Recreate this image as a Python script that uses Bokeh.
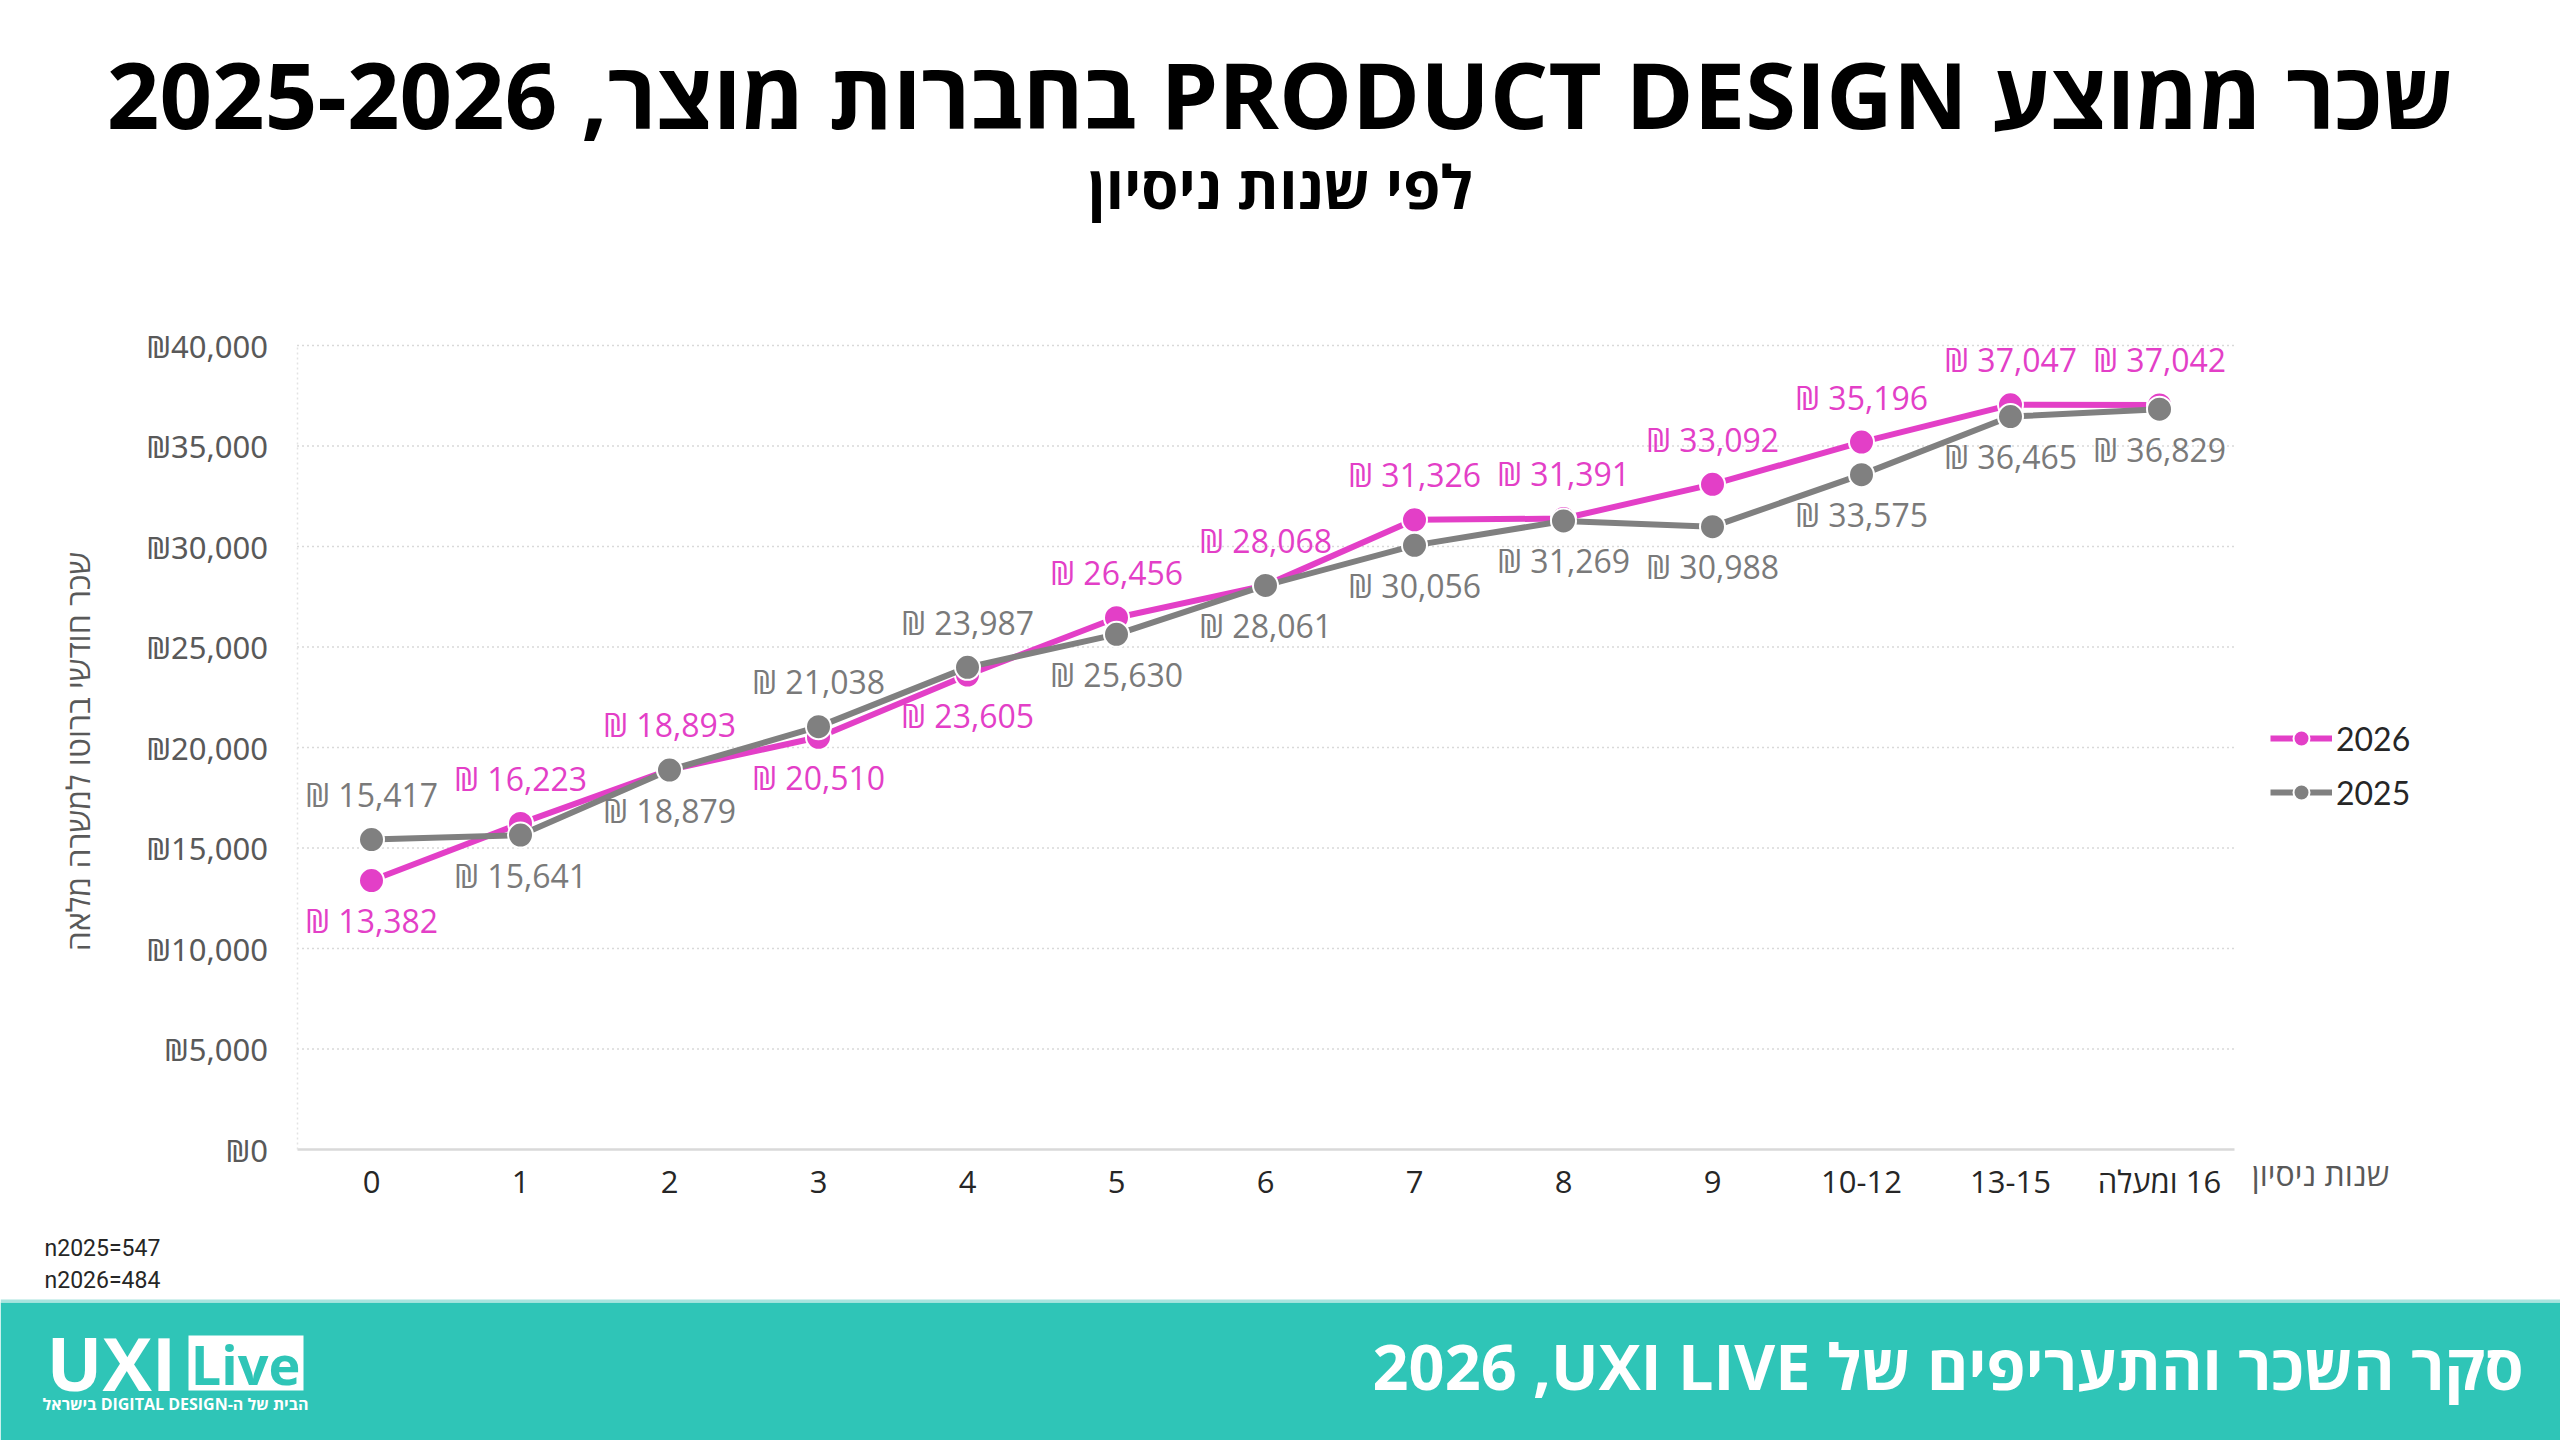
from bokeh.plotting import figure
from bokeh.models import (Range1d, FixedTicker, Label, LabelSet, BoxAnnotation,
                          ColumnDataSource, Legend, LegendItem)
from bokeh.core.properties import value
from bokeh.embed import file_html
from bokeh.resources import INLINE

# ---------------- data ----------------
categories = ["0", "1", "2", "3", "4", "5", "6", "7", "8", "9", "10-12", "13-15", "16 ומעלה"]
salary_2026 = [13382, 16223, 18893, 20510, 23605, 26456, 28068, 31326, 31391, 33092, 35196, 37047, 37042]
salary_2025 = [15417, 15641, 18879, 21038, 23987, 25630, 28061, 30056, 31269, 30988, 33575, 36465, 36829]
# label side: 1 = above the point, -1 = below
side_2026 = [-1, 1, 1, -1, -1, 1, 1, 1, 1, 1, 1, 1, 1]
side_2025 = [1, -1, -1, 1, 1, -1, -1, -1, -1, -1, -1, -1, -1]
y_ticks = [0, 5000, 10000, 15000, 20000, 25000, 30000, 35000, 40000]
y_tick_labels = ["₪0", "₪5,000", "₪10,000", "₪15,000", "₪20,000", "₪25,000", "₪30,000", "₪35,000", "₪40,000"]
series_names = ["2026", "2025"]

title_text = "שכר ממוצע PRODUCT DESIGN בחברות מוצר, 2025-2026"
subtitle_text = "לפי שנות ניסיון"
y_title = "שכר חודשי ברוטו למשרה מלאה"
x_title = "שנות ניסיון"
notes = ["n2025=547", "n2026=484"]
footer_text = "סקר השכר והתעריפים של UXI LIVE,\u200f 2026"
tagline = "הבית של ה-DIGITAL DESIGN בישראל"

RLI, PDI = "\u2067", "\u2069"


def rtl(s):
    # isolate a string as right-to-left text when it contains Hebrew
    return RLI + s + PDI if any("\u0590" <= ch <= "\u05ff" for ch in s) else s


PINK = "#E33FC7"
GRAY = "#808080"
TEAL = "#2FC5B7"
FONT = "Open Sans"

# ---------------- geometry (pixels) ----------------
W, H = 2560, 1440
X0_PX, STEP_PX = 371, 149          # centre of first category, category width
Y0_PX, YTOP_PX = 1149, 345         # pixel rows of 0 and of 40,000
n = len(categories)
ymax = y_ticks[-1]
k = (Y0_PX - YTOP_PX) / ymax       # px per unit

x_range = Range1d(-X0_PX / STEP_PX, (W - X0_PX) / STEP_PX)
y_range = Range1d(-(H - Y0_PX) / k, ymax + YTOP_PX / k)

p = figure(width=W, height=H, x_range=x_range, y_range=y_range,
           output_backend="svg", toolbar_location=None, min_border=0,
           outline_line_color=None, background_fill_color="white", border_fill_color="white")
p.grid.visible = False

# footer band and logo box (drawn first, behind texts)
p.add_layout(BoxAnnotation(left=0, right=W, bottom=0, top=H - 1302,
                           left_units="screen", right_units="screen",
                           top_units="screen", bottom_units="screen",
                           fill_color=TEAL, fill_alpha=1, line_color=None))
p.add_layout(BoxAnnotation(left=0, right=W, bottom=H - 1302, top=H - 1299,
                           left_units="screen", right_units="screen",
                           top_units="screen", bottom_units="screen",
                           fill_color="#a8e4de", fill_alpha=1, line_color=None))
p.add_layout(BoxAnnotation(left=188, right=303, bottom=H - 1390, top=H - 1335,
                           left_units="screen", right_units="screen",
                           top_units="screen", bottom_units="screen",
                           fill_color="white", fill_alpha=1, line_color=None))

# grid lines limited to the plotting area
p.segment(x0=[-0.5] * (len(y_ticks) - 1), x1=[n - 0.5] * (len(y_ticks) - 1),
          y0=y_ticks[1:], y1=y_ticks[1:], line_color="#d9d9d9", line_dash="2 3", line_width=1.5)

# axes
xa = p.xaxis[0]
xa.fixed_location = 0
xa.bounds = (-0.5, n - 0.5)
xa.ticker = FixedTicker(ticks=list(range(n)))
xa.major_label_overrides = {i: rtl(c) for i, c in enumerate(categories)}
xa.major_label_text_font = FONT
xa.major_label_text_font_size = "31px"
xa.major_label_text_color = "#262626"
xa.major_tick_line_color = None
xa.minor_tick_line_color = None
xa.axis_line_color = "#d9d9d9"
xa.axis_line_width = 2.5
xa.major_label_standoff = 4

ya = p.yaxis[0]
ya.fixed_location = -0.5
ya.bounds = (0, ymax)
ya.ticker = FixedTicker(ticks=y_ticks)
ya.major_label_overrides = {t: l for t, l in zip(y_ticks, y_tick_labels)}
ya.major_label_text_font = "Noto Sans"
ya.major_label_text_font_size = "31px"
ya.major_label_text_color = "#595959"
ya.major_tick_line_color = None
ya.minor_tick_line_color = None
ya.axis_line_color = "#e3e3e3"
ya.axis_line_dash = "2 3"
ya.axis_line_width = 1.5
ya.major_label_standoff = 23

xs = list(range(n))
src26 = ColumnDataSource(dict(x=xs, y=salary_2026,
                              t=[f"₪ {v:,}" for v in salary_2026],
                              off=[45 if s > 0 else -40 for s in side_2026]))
src25 = ColumnDataSource(dict(x=xs, y=salary_2025,
                              t=[f"₪ {v:,}" for v in salary_2025],
                              off=[45 if s > 0 else -40 for s in side_2025]))

l26 = p.line("x", "y", source=src26, line_width=6, line_color=PINK)
s26 = p.scatter("x", "y", source=src26, size=25, fill_color=PINK, line_color="white", line_width=2)
l25 = p.line("x", "y", source=src25, line_width=6, line_color=GRAY)
s25 = p.scatter("x", "y", source=src25, size=25, fill_color=GRAY, line_color="white", line_width=2)

for src, col in ((src26, PINK), (src25, "#7a7a7a")):
    p.add_layout(LabelSet(x="x", y="y", text="t", source=src, y_offset="off",
                          text_align="center", text_baseline="middle",
                          text_font=value(FONT), text_font_size=value("32px"), text_color=col))

legend = Legend(items=[LegendItem(label=series_names[0], renderers=[l26, s26]),
                       LegendItem(label=series_names[1], renderers=[l25, s25])],
                location=(2270, H - 812), orientation="vertical",
                glyph_width=62, glyph_height=40, label_height=40, spacing=14,
                label_standoff=4, padding=0, margin=0,
                border_line_color=None, background_fill_alpha=0,
                label_text_font="Lato", label_text_font_size="32px",
                label_text_color="#262626", label_text_baseline="middle")
p.add_layout(legend, "center")


def lab(cx, cy, text, size, color="black", bold=False, align="center", angle=0.0, font=FONT):
    # cx, cy: pixel position from the top-left corner of the figure
    p.add_layout(Label(x=cx, y=H - cy, x_units="screen", y_units="screen",
                       text=text, text_font=font, text_font_size=size, text_color=color,
                       text_font_style="bold" if bold else "normal",
                       text_align=align, text_baseline="middle", angle=angle))


lab(1280, 93, rtl(title_text), "92px", "black", True)
lab(1280, 185, subtitle_text, "60px", "black", True)
lab(77, 751, y_title, "32px", "#595959", angle=1.5708)
lab(2320, 1173, x_title, "32px", "#595959")
lab(44, 1248, notes[0], "23px", "#262626", align="left", font="Roboto")
lab(44, 1280, notes[1], "23px", "#262626", align="left", font="Roboto")

# footer texts and logo
lab(2523, 1365, rtl(footer_text), "63px", "white", True, align="right")
lab(46, 1362, "UXI", "74px", "white", True, align="left")
lab(245, 1363, "Live", "54px", TEAL, True)
lab(175, 1403, rtl(tagline), "16px", "white", True)

open("out.html", "w").write(file_html(p, INLINE))
